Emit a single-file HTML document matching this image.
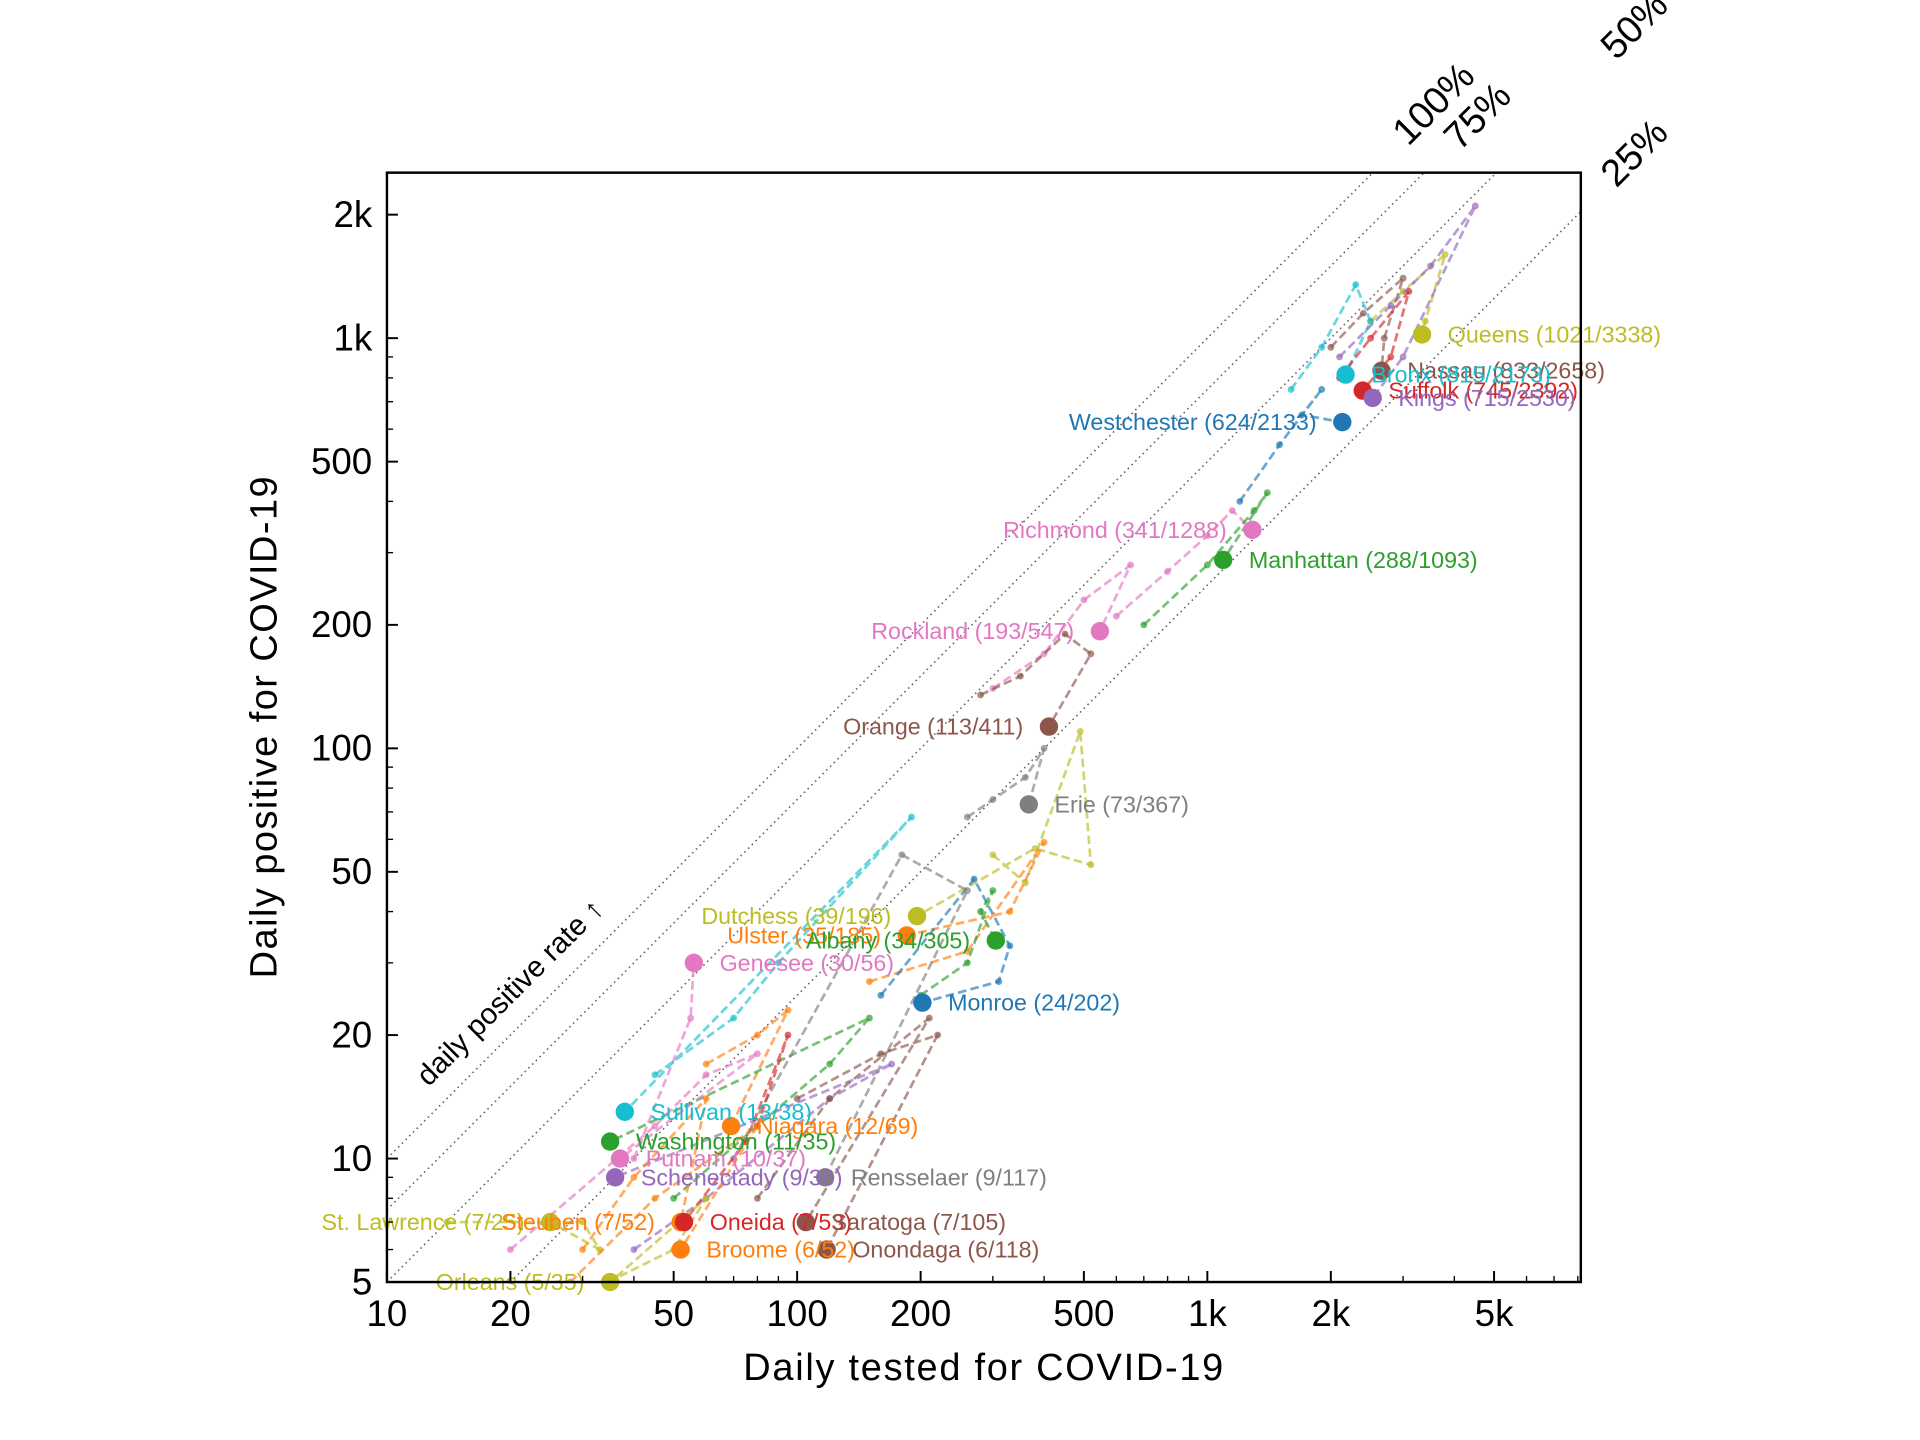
<!DOCTYPE html>
<html><head><meta charset="utf-8"><style>
html,body{margin:0;padding:0;background:#fff;overflow:hidden;width:1920px;height:1440px;}
svg{display:block;font-family:"Liberation Sans",sans-serif;}
</style></head><body>
<svg id="chart" width="1920" height="1440" viewBox="0 0 1568 1176" xmlns="http://www.w3.org/2000/svg">
<defs><clipPath id="plotclip"><rect x="316" y="141" width="975" height="906"/></clipPath></defs>
<rect x="0" y="0" width="1568" height="1176" fill="#fff"/>
<g id="rates" clip-path="url(#plotclip)"></g>
<g id="trails" clip-path="url(#plotclip)"></g>
<g id="markers"></g>
<g id="labels"></g>
<rect x="316" y="141" width="975" height="906" fill="none" stroke="#000" stroke-width="2"/>
<g id="ticks"></g>
<text x="803" y="1127" font-size="31" text-anchor="middle" textLength="392">Daily tested for COVID-19</text>
<text transform="translate(226,594) rotate(-90)" font-size="31" text-anchor="middle" textLength="410">Daily positive for COVID-19</text>
<text transform="translate(350,888) rotate(-45)" font-size="24">daily positive rate  ↑</text>
<text transform="translate(1150,120) rotate(-45)" font-size="31">100%</text>
<text transform="translate(1192,124) rotate(-45)" font-size="31">75%</text>
<text transform="translate(1320,50) rotate(-45)" font-size="31">50%</text>
<text transform="translate(1320,154) rotate(-45)" font-size="31">25%</text>
</svg>
<script>
const rates = [1, 0.75, 0.5, 0.25];
const xTickLabels = [[10,'10'],[20,'20'],[50,'50'],[100,'100'],[200,'200'],[500,'500'],[1000,'1k'],[2000,'2k'],[5000,'5k']];
const yTickLabels = [[5,'5'],[10,'10'],[20,'20'],[50,'50'],[100,'100'],[200,'200'],[500,'500'],[1000,'1k'],[2000,'2k']];
const names = ['Queens','Nassau','Bronx','Suffolk','Kings','Westchester','Richmond','Manhattan','Rockland','Orange','Erie','Dutchess','Ulster','Albany','Genesee','Monroe','Sullivan','Niagara','Washington','Putnam','Schenectady','Rensselaer','St. Lawrence','Steuben','Oneida','Saratoga','Broome','Onondaga','Orleans'];
const positives = [1021,833,815,745,715,624,341,288,193,113,73,39,35,34,30,24,13,12,11,10,9,9,7,7,7,7,6,6,5];
const tested = [3338,2658,2173,2392,2530,2133,1288,1093,547,411,367,196,185,305,56,202,38,69,35,37,36,117,25,52,53,105,52,118,35];
const colors = ['#bcbd22','#8c564b','#17becf','#d62728','#9467bd','#1f77b4','#e377c2','#2ca02c','#e377c2','#8c564b','#7f7f7f','#bcbd22','#ff7f0e','#2ca02c','#e377c2','#1f77b4','#17becf','#ff7f0e','#2ca02c','#e377c2','#9467bd','#7f7f7f','#bcbd22','#ff7f0e','#d62728','#8c564b','#ff7f0e','#8c564b','#bcbd22'];
const labelSide = ['r','r','r','r','r','l','l','r','l','l','r','l','l','l','r','r','r','r','r','r','r','r','l','l','r','r','r','r','l'];
const trailTested = [
 [2500,3000,3800,3400],[2000,2400,3000,2700],[1600,1900,2300,2500],[2100,2500,3100,2800],[2100,2800,3500,4500,3000],
 [1200,1500,1900,1700],[600,800,1000,1150],[700,1000,1300,1400],[300,400,500,650],[280,350,450,520],
 [260,300,360,400],[300,360,490,520,380],[150,260,400,330],[200,260,300,280],[40,55],
 [160,270,330,310],[45,70,90,190],[60,80,95],[50,80,120,150],[20,45,60,80],
 [40,60,120,170],[70,180,260],[14,30,33],[30,40,60],[80,95,75],
 [80,120,210],[28,45,80],[100,160,220],[22,50,60]];
const trailPositive = [
 [1100,1300,1600,1100],[950,1150,1400,1000],[750,950,1350,1100],[800,1000,1300,900],[900,1200,1500,2100,900],
 [400,550,750,650],[210,270,330,380],[200,280,380,420],[140,170,230,280],[135,150,190,170],
 [68,75,85,100],[55,47,110,52,57],[27,32,59,40],[25,30,45,40],[10,22],
 [25,48,33,27],[16,22,30,68],[17,20,23],[8,12,17,22],[6,12,16,18],
 [6,8,14,17],[10,55,45],[7,7,6],[6,9,14],[12,20,11],
 [8,14,22],[5,8,12],[14,18,20],[4,6,8]];
const NS='http://www.w3.org/2000/svg';
const XMIN=10,XMAX=8130,YMIN=5,YMAX=2530;
function X(v){return 316+335*Math.log10(v/10);}
function Y(v){return 1047-335*Math.log10(v/5);}
function mk(tag,attrs,parent){const e=document.createElementNS(NS,tag);for(const k in attrs)e.setAttribute(k,attrs[k]);parent.appendChild(e);return e;}
const gR=document.getElementById('rates'),gT=document.getElementById('trails'),gM=document.getElementById('markers'),gL=document.getElementById('labels'),gK=document.getElementById('ticks');
rates.forEach(r=>{
 const xa=Math.max(XMIN,YMIN/r), xb=Math.min(XMAX,YMAX/r);
 const l=mk('line',{x1:X(xa),y1:Y(r*xa),x2:X(xb),y2:Y(r*xb),stroke:'#666','stroke-width':1.3,'stroke-dasharray':'1.3,3'},gR);
 
 
});
names.forEach((n,i)=>{
 const xs=trailTested[i].concat([tested[i]]), ys=trailPositive[i].concat([positives[i]]);
 const pts=xs.map((t,j)=>X(t).toFixed(1)+','+Y(ys[j]).toFixed(1)).join(' ');
 const pl=mk('polyline',{points:pts,fill:'none',stroke:colors[i],'stroke-width':2.2,'stroke-dasharray':'7,3.5',opacity:0.65},gT);
 
 
 trailTested[i].forEach((t,j)=>{
  const c=mk('circle',{cx:X(t),cy:Y(trailPositive[i][j]),r:2.8,fill:colors[i],opacity:0.7},gT);
  
  
 });
});
names.forEach((n,i)=>{
 const cx=X(tested[i]),cy=Y(positives[i]);
 const c=mk('circle',{cx:cx,cy:cy,r:7.5,fill:colors[i]},gM);
 
 
 const right=labelSide[i]==='r';
 const t=mk('text',{x:right?cx+21:cx-21,y:cy+6.5,'font-size':19,fill:colors[i],'text-anchor':right?'start':'end'},gL);
 t.textContent=n+' ('+positives[i]+'/'+tested[i]+')';
 
 
});
for(let d=10;d<=10000;d*=10){for(let m=1;m<10;m++){const v=d*m;if(v<10||v>8100)continue;const x=X(v);const major=[1,2,5].includes(m);
 const tk=mk('line',{x1:x,y1:1047,x2:x,y2:1047-(major?9:5),stroke:'#000','stroke-width':major?1.6:1.1},gK);
 
 }}
for(let d=1;d<=1000;d*=10){for(let m=1;m<10;m++){const v=d*m;if(v<5||v>2530)continue;const y=Y(v);const major=[1,2,5].includes(m);
 const tk=mk('line',{x1:316,y1:y,x2:316+(major?9:5),y2:y,stroke:'#000','stroke-width':major?1.6:1.1},gK);
 
 }}
xTickLabels.forEach(([v,s])=>{const t=mk('text',{x:X(v),y:1083,'font-size':30,'text-anchor':'middle'},gK);t.textContent=s;
 
 });
yTickLabels.forEach(([v,s])=>{const t=mk('text',{x:304,y:Y(v)+10,'font-size':30,'text-anchor':'end'},gK);t.textContent=s;
 
 });
</script>
</body></html>
